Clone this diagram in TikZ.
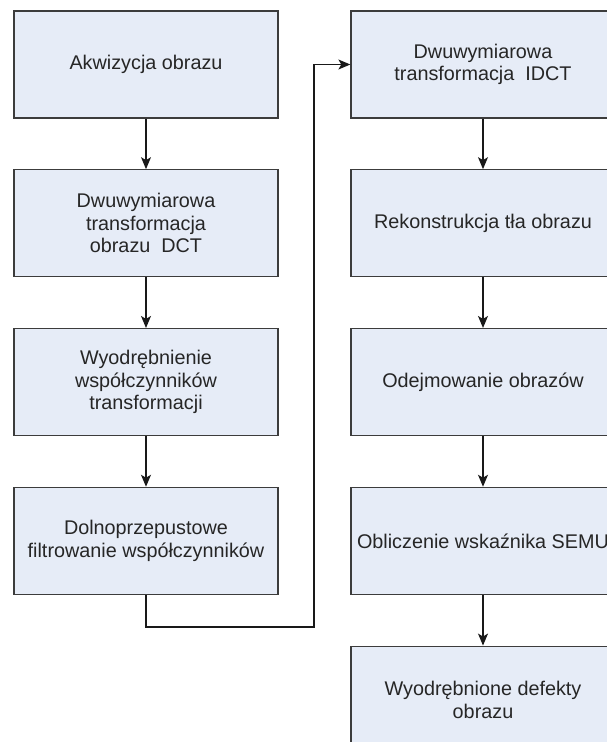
\documentclass[tikz,border=0pt]{standalone}
\usepackage{fontspec}
\setmainfont{Liberation Sans}
\usetikzlibrary{positioning,arrows.meta}
\definecolor{boxfill}{RGB}{230,236,247}
\definecolor{boxline}{RGB}{60,60,60}
\tikzset{
  krok/.style={draw=boxline,fill=boxfill,line width=1.3pt,minimum width=264pt,minimum height=107pt,
    align=center,inner sep=0pt,text=black!85,font=\fontsize{19.8}{22.5}\selectfont},
  strz/.style={-{Stealth[length=12pt,width=10pt,inset=3pt]},line width=1.2pt,draw=black!90}
}
\begin{document}
\begin{tikzpicture}[node distance=50.5pt]
\useasboundingbox (0,0) rectangle (606pt,-742pt);
% lewa kolumna
\node[krok] (akw) at (146pt,-64.5pt) {Akwizycja obrazu};
\node[krok,below=of akw] (dct) {Dwuwymiarowa\\transformacja\\obrazu~~DCT};
\node[krok,below=of dct] (wsp) {Wyodrębnienie\\współczynników\\transformacji};
\node[krok,below=of wsp] (filt) {Dolnoprzepustowe\\filtrowanie współczynników};
% prawa kolumna
\node[krok] (idct) at (483pt,-64.5pt) {Dwuwymiarowa\\transformacja~~IDCT};
\node[krok,below=of idct] (rek) {Rekonstrukcja tła obrazu};
\node[krok,below=of rek] (odj) {Odejmowanie obrazów};
\node[krok,below=of odj] (semu) {Obliczenie wskaźnika SEMU};
\node[krok,below=of semu] (def) {Wyodrębnione defekty\\obrazu};
% strzalki
\draw[strz] (akw) -- (dct);
\draw[strz] (dct) -- (wsp);
\draw[strz] (wsp) -- (filt);
\coordinate (zakret) at (314pt,-627pt);
\draw[strz] (filt.south) |- (zakret) |- (idct.west);
\draw[strz] (idct) -- (rek);
\draw[strz] (rek) -- (odj);
\draw[strz] (odj) -- (semu);
\draw[strz] (semu) -- (def);
\end{tikzpicture}
\end{document}
